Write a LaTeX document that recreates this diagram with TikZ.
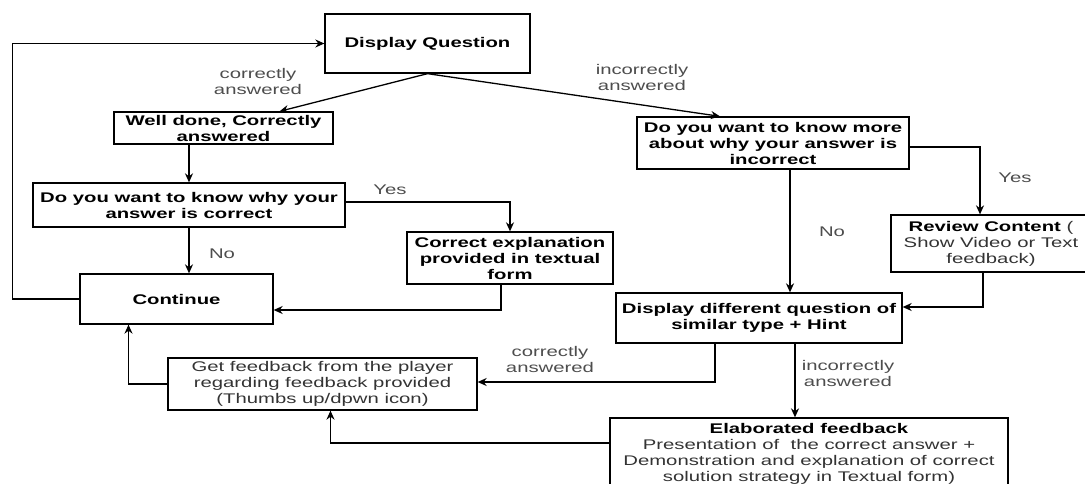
\documentclass[tikz,border=0pt]{standalone}
\usepackage{fontspec}
\setmainfont{Liberation Sans}[FakeStretch=1.45]
\usepackage{tikz}
\usetikzlibrary{arrows.meta,positioning,calc}
\definecolor{txtgray}{HTML}{333333}
\definecolor{lblgray}{HTML}{4D4D4D}
\tikzset{
box/.style 2 args={draw, line width=1.3pt, minimum width=#1, minimum height=#2, align=center, inner sep=1pt, text=txtgray, font=\fontsize{14}{16}\selectfont}, % one box of the chart
hd/.style={text=black, font=\fontsize{14}{16}\selectfont\bfseries}, % bold box text
lbl/.style={align=center, text=lblgray, font=\fontsize{14}{16}\selectfont}, % text on the arrows
flow/.style={line width=1.3pt, -{Stealth[length=9pt,width=8pt]}}, % arrows
}

\begin{document}
\begin{tikzpicture}[x=1pt,y=1pt,on grid]
   \useasboundingbox (0,0) rectangle (1085,-483);
   \node[box={205pt}{59pt},hd] (dq) at (427.5,-43.5) {Display Question};
   \node[box={219pt}{32pt},hd] (wd) [below left=84.5pt and 204pt of dq] {Well done, Correctly\\answered};
   \node[box={312pt}{44pt},hd] (why) [below left=77pt and 34.5pt of wd] {Do you want to know why your\\answer is correct};
   \node[box={193pt}{50pt},hd] (cont) [below left=94pt and 12.5pt of why] {Continue};
   \node[box={206pt}{52pt},hd] (expl) [below right=53pt and 321pt of why] {Correct explanation\\provided in textual\\form};
   \node[box={272pt}{52pt},hd] (more) [below right=99.5pt and 345.5pt of dq] {Do you want to know more\\about why your answer is\\incorrect};
   \node[box={200pt}{57pt}] (review) [below right=100.5pt and 218pt of more] {\textbf{\color{black}Review Content} (\\Show Video or Text\\feedback)};
   \node[box={286pt}{50pt},hd] (disp) [below left=175pt and 14pt of more] {Display different question of\\similar type + Hint};
   \node[box={309pt}{52pt}] (fb) [below right=85pt and 146pt of cont] {Get feedback from the player\\regarding feedback provided\\(Thumbs up/dpwn icon)};
   \node[box={398pt}{72pt}] (elab) [below right=136pt and 50pt of disp] {\textbf{\color{black}Elaborated feedback}\\Presentation of \ the correct answer +\\Demonstration and explanation of correct\\solution strategy in Textual form)};

   % labels on the arrows
   \node[lbl] (lcor1) at (258,-81) {correctly\\answered};
   \node[lbl] (linc1) at (642,-77) {incorrectly\\answered};
   \node[lbl] (lyes1) at (390,-190) {Yes};
   \node[lbl] (lno1) at (222,-254) {No};
   \node[lbl] (lno2) at (832,-232) {No};
   \node[lbl] (lyes2) at (1015,-178) {Yes};
   \node[lbl] (lcor2) at (550,-359) {correctly\\answered};
   \node[lbl] (linc2) at (848,-373) {incorrectly\\answered};

    \path[flow]
    (dq.south) edge ([xshift=56pt]wd.north)
    (dq.south) edge ([xshift=-53pt]more.north)
    (wd.south -| why.north) edge (why.north)
    (why.south) edge (why.south |- cont.north)
    ([xshift=17pt]more.south) edge ([xshift=31pt]disp.north)
    ([xshift=36pt]disp.south) edge ([xshift=36pt]disp.south |- elab.north);

   \draw[flow] (cont.west) -- ++(-67,0) |- (dq.west);
   \draw[flow] ([yshift=3pt]why.east) -| (expl.north);
   \draw[flow] ([xshift=-9pt]expl.south) |- ([yshift=-11pt]cont.east);
   \draw[flow] ([yshift=-4pt]more.east) -| ([xshift=-11pt]review.north);
   \draw[flow] ([xshift=-8pt]review.south) |- ([yshift=11pt]disp.east);
   \draw[flow] ([xshift=-44pt]disp.south) |- ([yshift=2pt]fb.east);
   \draw[flow] ([yshift=11pt]elab.west) -| ([xshift=8pt]fb.south);
   \draw[flow] (fb.west) -| ([xshift=-48pt]cont.south);
\end{tikzpicture}
\end{document}
